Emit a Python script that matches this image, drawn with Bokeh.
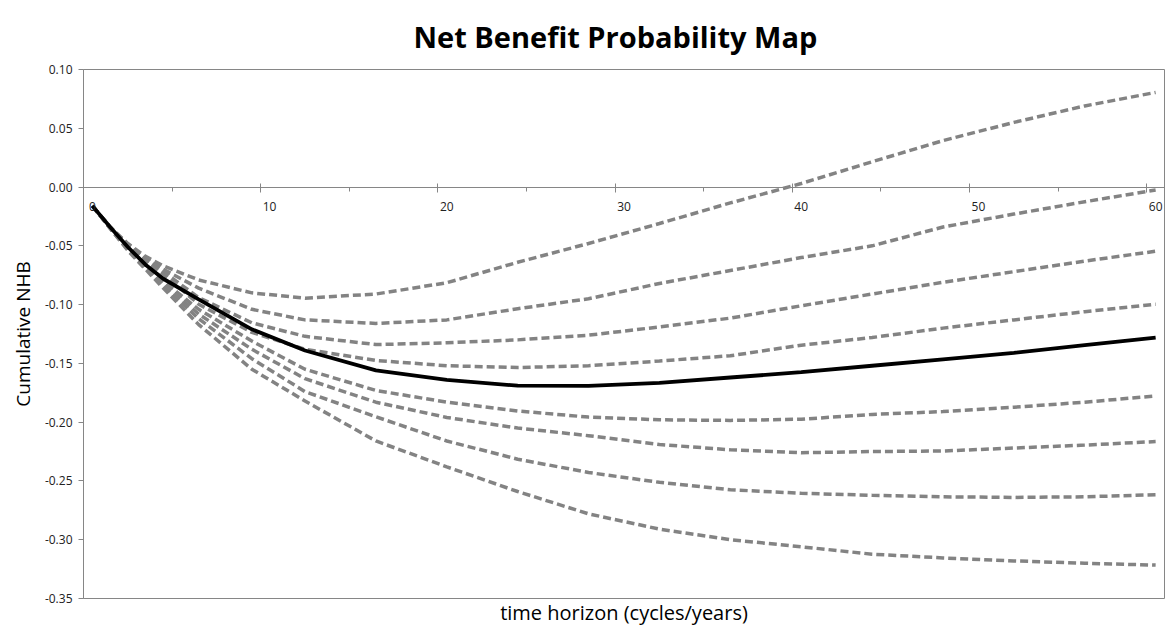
from bokeh.plotting import figure
from bokeh.models import LinearAxis, FixedTicker, NumeralTickFormatter, Range1d
from bokeh.embed import file_html
from bokeh.resources import INLINE

# ---------------- data ----------------
years = [0, 1, 2, 3, 4, 6, 9, 12, 16, 20, 24, 28, 32, 36, 40, 44, 48, 52, 56, 60]

band_1 = [-0.016, -0.034, -0.048, -0.059, -0.067, -0.079, -0.090, -0.0945, -0.091, -0.0814,
          -0.064, -0.048, -0.031, -0.0135, 0.003, 0.0215, 0.0395, 0.055, 0.069, 0.0805]
band_2 = [-0.016, -0.034, -0.049, -0.061, -0.070, -0.086, -0.104, -0.113, -0.116, -0.113,
          -0.1035, -0.095, -0.082, -0.071, -0.060, -0.050, -0.034, -0.023, -0.0125, -0.0025]
band_3 = [-0.016, -0.034, -0.050, -0.062, -0.072, -0.094, -0.1155, -0.127, -0.134, -0.1325,
          -0.130, -0.126, -0.119, -0.1115, -0.101, -0.091, -0.081, -0.072, -0.063, -0.0546]
band_4 = [-0.016, -0.034, -0.050, -0.063, -0.074, -0.0997, -0.1236, -0.138, -0.1475, -0.152,
          -0.1535, -0.152, -0.148, -0.1435, -0.1345, -0.128, -0.120, -0.113, -0.106, -0.0997]
mean_nhb = [-0.016, -0.034, -0.051, -0.066, -0.078, -0.0955, -0.121, -0.139, -0.156, -0.164,
            -0.169, -0.1692, -0.1665, -0.162, -0.1575, -0.152, -0.1465, -0.141, -0.1345, -0.128]
band_6 = [-0.016, -0.035, -0.052, -0.067, -0.080, -0.104, -0.131, -0.155, -0.173, -0.183,
          -0.1905, -0.1957, -0.198, -0.1985, -0.1975, -0.1934, -0.191, -0.1873, -0.183, -0.1777]
band_7 = [-0.016, -0.035, -0.053, -0.068, -0.082, -0.108, -0.138, -0.163, -0.183, -0.196,
          -0.205, -0.2115, -0.219, -0.2235, -0.226, -0.225, -0.2245, -0.222, -0.2195, -0.2165]
band_8 = [-0.016, -0.035, -0.053, -0.069, -0.084, -0.112, -0.146, -0.174, -0.1954, -0.216,
          -0.2315, -0.2428, -0.2512, -0.2575, -0.2605, -0.2622, -0.2635, -0.264, -0.2635, -0.2617]
band_9 = [-0.016, -0.035, -0.054, -0.070, -0.086, -0.117, -0.155, -0.182, -0.216, -0.238,
          -0.259, -0.278, -0.291, -0.300, -0.306, -0.3123, -0.3155, -0.318, -0.320, -0.3216]

dashed_series = [band_1, band_2, band_3, band_4, band_6, band_7, band_8, band_9]

x_tick_labels = [0, 10, 20, 30, 40, 50, 60]
y_ticks = [-0.35, -0.30, -0.25, -0.20, -0.15, -0.10, -0.05, 0.00, 0.05, 0.10]

title_text = "Net Benefit Probability Map"
x_title = "time horizon (cycles/years)"
y_title = "Cumulative NHB"

# ---------------- chart ----------------
FONT = "Open Sans"
AXIS_GREY = "#868686"

p = figure(width=1166, height=628,
           x_range=Range1d(-0.5, 60.5), y_range=Range1d(-0.35, 0.10),
           output_backend="svg", toolbar_location=None,
           min_border_left=83, min_border_right=2, min_border_top=68, min_border_bottom=26,
           title=title_text)

p.background_fill_color = "white"
p.border_fill_color = "white"
p.outline_line_color = AXIS_GREY
p.outline_line_width = 1
p.grid.visible = False

p.title.text_font = FONT
p.title.text_font_size = "29px"
p.title.text_font_style = "bold"
p.title.text_color = "black"
p.title.align = "left"
p.title.offset = 330
p.title.standoff = 28

# category boundary ticks (Excel style: ticks between categories) on the y=0 line
boundary_ticks = [v - 0.5 for v in x_tick_labels[1:]]
minor_boundary = [v - 5.5 for v in x_tick_labels[1:]]
xa = p.xaxis[0]
xa.ticker = FixedTicker(ticks=boundary_ticks, minor_ticks=minor_boundary)
xa.fixed_location = 0
xa.axis_line_color = AXIS_GREY
xa.major_tick_line_color = AXIS_GREY
xa.minor_tick_line_color = AXIS_GREY
xa.major_tick_in = 4
xa.major_tick_out = 5
xa.minor_tick_in = 0
xa.minor_tick_out = 4
xa.major_label_overrides = {t: "" for t in boundary_ticks}

# category labels at the category centres
xl = LinearAxis(ticker=FixedTicker(ticks=x_tick_labels), fixed_location=0)
xl.axis_line_color = None
xl.major_tick_line_color = None
xl.minor_tick_line_color = None
xl.major_tick_in = 0
xl.major_tick_out = 0
xl.major_label_standoff = 15
xl.major_label_text_font = FONT
xl.major_label_text_font_size = "12px"
xl.major_label_text_color = "#222222"
p.add_layout(xl, "below")

# axis title at the bottom of the chart
xt = LinearAxis(ticker=FixedTicker(ticks=[]), axis_label=x_title)
xt.axis_line_color = None
xt.major_tick_line_color = None
xt.minor_tick_line_color = None
xt.major_tick_out = 0
xt.major_tick_in = 0
xt.major_label_standoff = 0
xt.axis_label_standoff = 0
xt.axis_label_text_font = FONT
xt.axis_label_text_font_size = "20px"
xt.axis_label_text_font_style = "normal"
xt.axis_label_text_color = "black"
p.add_layout(xt, "below")

ya = p.yaxis[0]
ya.ticker = FixedTicker(ticks=y_ticks)
ya.formatter = NumeralTickFormatter(format="0.00")
ya.axis_line_color = AXIS_GREY
ya.major_tick_line_color = AXIS_GREY
ya.minor_tick_line_color = None
ya.major_tick_in = 0
ya.major_tick_out = 5
ya.major_label_standoff = 6
ya.major_label_text_font = FONT
ya.major_label_text_font_size = "12px"
ya.major_label_text_color = "#222222"
ya.axis_label = y_title
ya.axis_label_text_font = FONT
ya.axis_label_text_font_size = "19px"
ya.axis_label_text_font_style = "normal"
ya.axis_label_text_color = "black"
ya.axis_label_standoff = 6

for series in dashed_series:
    p.line(years, series, line_color="#838383", line_width=3.5, line_dash="8 4")

p.line(years, mean_nhb, line_color="black", line_width=3.8)

open("out.html", "w").write(file_html(p, INLINE))
